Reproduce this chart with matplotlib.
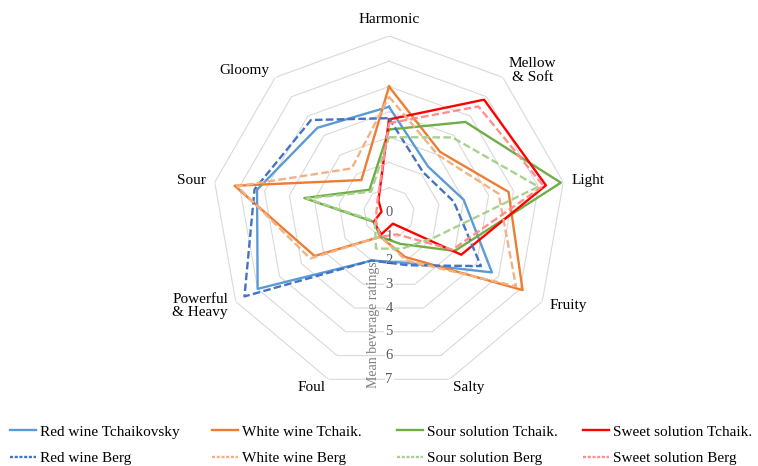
import numpy as np
import matplotlib
matplotlib.use("Agg")
import matplotlib.pyplot as plt
from matplotlib.lines import Line2D

plt.rcParams['font.family'] = ['Liberation Serif', 'DejaVu Serif']

# categories, clockwise from the top
categories = ["Harmonic", "Mellow\n& Soft", "Light", "Fruity", "Salty",
              "Foul", "Powerful\n& Heavy", "Sour", "Gloomy"]

# mean beverage ratings
red_wine_tchaik   = [4.2, 2.4, 3.0, 4.7, 2.1, 2.0, 6.0, 5.3, 4.4]
white_wine_tchaik = [5.0, 3.15, 4.8, 6.1, 1.85, 1.0, 3.4, 6.2, 1.7]
sour_tchaik       = [3.3, 4.7, 6.9, 3.0, 1.3, 1.0, 0.7, 3.4, 1.2]
sweet_tchaik      = [3.7, 5.85, 6.3, 3.3, 0.45, 0.9, 0.7, 0.3, 0.65]
red_wine_berg     = [3.75, 2.1, 2.6, 4.2, 2.2, 2.0, 6.6, 5.4, 4.8]
white_wine_berg   = [4.6, 3.0, 4.4, 5.8, 2.0, 1.0, 3.6, 6.1, 2.3]
sour_berg         = [3.0, 3.9, 6.0, 2.0, 1.5, 1.5, 0.65, 3.3, 1.1]
sweet_berg        = [3.55, 5.5, 6.2, 2.9, 0.9, 1.0, 0.6, 0.5, 0.7]

series = [
    ("Red wine Tchaikovsky", red_wine_tchaik, "#5B9BD5", "-"),
    ("Red wine Berg", red_wine_berg, "#4472C4", "--"),
    ("White wine Tchaik.", white_wine_tchaik, "#ED7D31", "-"),
    ("White wine Berg", white_wine_berg, "#F4B183", "--"),
    ("Sour solution Tchaik.", sour_tchaik, "#70AD47", "-"),
    ("Sour solution Berg", sour_berg, "#A9D18E", "--"),
    ("Sweet solution Tchaik.", sweet_tchaik, "#FF0000", "-"),
    ("Sweet solution Berg", sweet_berg, "#FF8F8F", "--"),
]

rmax = 7
N = len(categories)
theta = np.deg2rad(np.arange(N) * 360.0 / N)
theta_c = np.append(theta, theta[0])

fig = plt.figure(figsize=(7.58, 4.66), dpi=100)
ax = fig.add_axes([0.2797, 0.1631, 0.467, 0.7597], projection="polar")
ax.set_theta_zero_location("N")
ax.set_theta_direction(-1)
ax.set_ylim(0, rmax)
ax.set_xticks([])
ax.set_yticks([])
ax.grid(False)
ax.spines["polar"].set_visible(False)
ax.patch.set_visible(False)

# polygon rings
for k in range(1, rmax + 1):
    ax.plot(theta_c, [k] * (N + 1), color="#D9D9D9", lw=0.8, zorder=1)

# value labels down the bottom: white patch under the rings' gap, digit on top
for k in range(rmax + 1):
    r = k * np.cos(np.pi / N)
    ax.text(np.pi, r, str(k), ha="center", va="center", fontsize=10.5,
            color="white", zorder=1.5, bbox=dict(fc="white", ec="none", pad=0.6))
    ax.text(np.pi, r, str(k), ha="center", va="center", fontsize=10.5,
            color="#595959", zorder=3)
fig.text(373 / 758, 1 - 325 / 466, "Mean beverage ratings", rotation=90,
         ha="center", va="center", fontsize=10, color="#7F7F7F")

# category labels
label_pos = [(7.65, "center", "center"), (7.35, "left", "center"),
             (7.35, "left", "center"), (7.35, "left", "center"),
             (7.35, "left", "center"), (7.35, "right", "center"),
             (7.35, "right", "center"), (7.35, "right", "center"),
             (7.35, "right", "center")]
for t, lab, (r, ha, va) in zip(theta, categories, label_pos):
    ax.text(t, r, lab, ha=ha, va=va, fontsize=11, linespacing=1.05,
            multialignment="center" if ha == "left" else "left")

# the data
order = [0, 2, 4, 6, 1, 3, 5, 7]
for i in order:
    name, vals, col, ls = series[i]
    v = np.append(vals, vals[0])
    if ls == "-":
        ax.plot(theta_c, v, color=col, lw=1.7, zorder=2)
    else:
        ax.plot(theta_c, v, color=col, lw=1.7, dashes=(3.2, 1.4), zorder=2)

# legend: one legend per column
col_x = [10, 212, 397, 583]
for c in range(4):
    handles = []
    for i in (2 * c, 2 * c + 1):
        name, vals, col, ls = series[i]
        if ls == "-":
            h = Line2D([], [], color=col, lw=1.7, label=name)
        else:
            h = Line2D([], [], color=col, lw=1.7, dashes=(1.3, 0.7), label=name)
        handles.append(h)
    leg = fig.legend(handles=handles, loc="center left",
                     bbox_to_anchor=(col_x[c] / 758, 1 - 445 / 466),
                     frameon=False, fontsize=11, handlelength=1.7,
                     handletextpad=0.25, labelspacing=0.85,
                     borderpad=0, borderaxespad=0)

fig.savefig("out.png", dpi=100)
